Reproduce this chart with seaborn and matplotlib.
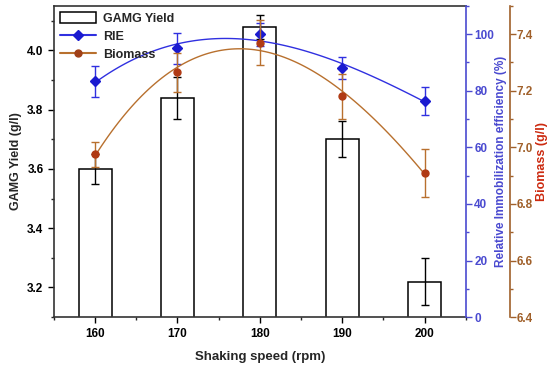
import matplotlib
matplotlib.use("Agg")
import matplotlib.pyplot as plt
import seaborn as sns
from matplotlib.patches import Patch
from matplotlib.lines import Line2D
from matplotlib.ticker import MultipleLocator

speed = [160, 170, 180, 190, 200]
gamg_yield = [3.60, 3.84, 4.08, 3.70, 3.22]
gamg_err = [0.05, 0.07, 0.04, 0.06, 0.08]
rie = [83.3, 95.0, 100.0, 88.0, 76.5]
rie_err = [5.5, 5.5, 4.0, 4.0, 5.0]
biomass = [6.975, 7.265, 7.37, 7.18, 6.91]
biomass_err = [0.045, 0.07, 0.08, 0.08, 0.085]

sns.set_style("ticks")
plt.rcParams['font.family'] = ['Liberation Sans', 'DejaVu Sans']
plt.rcParams['font.weight'] = 'bold'

blue = '#3030e0'
blue_axis = '#4a4ad0'
brown = '#b8702e'
brown_axis = '#a0602a'
dark = '#333333'

fig = plt.figure(figsize=(5.5, 3.7), dpi=100)
ax = fig.add_axes([0.098, 0.143, 0.749, 0.841])

# bars
sns.barplot(x=speed, y=gamg_yield, native_scale=True, width=0.4,
            color='white', edgecolor='black', linewidth=1.1,
            errorbar=None, ax=ax, zorder=2)
ax.errorbar(speed, gamg_yield, yerr=gamg_err, fmt='none', ecolor='black',
            elinewidth=1.0, capsize=3, capthick=1.0, zorder=3)
ax.set_xlim(155, 205)
ax.set_ylim(3.1, 4.15)
ax.set_xticks(speed)
ax.xaxis.set_minor_locator(MultipleLocator(5))
ax.yaxis.set_major_locator(MultipleLocator(0.2))
ax.yaxis.set_minor_locator(MultipleLocator(0.1))
ax.set_xlabel("Shaking speed (rpm)", fontsize=9.5, fontweight='bold', labelpad=8)
ax.set_ylabel("GAMG Yield (g/l)", fontsize=9, fontweight='bold', labelpad=4)
ax.tick_params(axis='both', which='major', direction='out', length=4,
               width=1, labelsize=8.5, colors='black')
ax.tick_params(axis='both', which='minor', direction='out', length=2, width=1)
for s in ['left', 'bottom', 'top']:
    ax.spines[s].set_color(dark)
    ax.spines[s].set_linewidth(1.2)
ax.spines['right'].set_visible(False)
ax.spines['top'].set_visible(True)

# RIE axis
ax2 = ax.twinx()
sns.regplot(x=speed, y=rie, order=3, ci=None, scatter=False, ax=ax2,
            line_kws={'color': blue, 'linewidth': 1.0})
ax2.errorbar(speed, rie, yerr=rie_err, fmt='D', color='#1a1ad0',
             markersize=5, ecolor=blue, elinewidth=1.0, capsize=3, capthick=1.0)
ax2.set_ylim(0, 110)
ax2.yaxis.set_major_locator(MultipleLocator(20))
ax2.yaxis.set_minor_locator(MultipleLocator(10))
ax2.set_ylabel("Relative Immobilization efficiency (%)", color=blue_axis,
               fontsize=8.5, fontweight='bold', labelpad=1)
ax2.tick_params(axis='y', which='major', direction='out', length=4, width=1,
                colors=blue_axis, labelsize=8.5, pad=2)
ax2.tick_params(axis='y', which='minor', direction='out', length=2, width=1,
                colors=blue_axis)
ax2.spines['right'].set_color(blue_axis)
ax2.spines['right'].set_linewidth(1.2)
for s in ['left', 'top', 'bottom']:
    ax2.spines[s].set_visible(False)

# Biomass axis, offset 44 px to the right
ax3 = ax.twinx()
ax3.spines['right'].set_position(('outward', 31.7))
sns.regplot(x=speed, y=biomass, order=3, ci=None, scatter=False, ax=ax3,
            line_kws={'color': brown, 'linewidth': 1.0})
ax3.errorbar(speed, biomass, yerr=biomass_err, fmt='o', color='#b03a14',
             markersize=5, ecolor=brown, elinewidth=1.0, capsize=3, capthick=1.0)
ax3.set_ylim(6.4, 7.5)
ax3.yaxis.set_major_locator(MultipleLocator(0.2))
ax3.yaxis.set_minor_locator(MultipleLocator(0.1))
ax3.set_ylabel("Biomass (g/l)", color='#cc2a10', fontsize=9,
               fontweight='bold', labelpad=2)
ax3.tick_params(axis='y', which='major', direction='out', length=4, width=1,
                colors=brown_axis, labelsize=8.5, pad=1)
ax3.tick_params(axis='y', which='minor', direction='out', length=2, width=1,
                colors=brown_axis)
ax3.spines['right'].set_color(brown_axis)
ax3.spines['right'].set_linewidth(1.2)
for s in ['left', 'top', 'bottom']:
    ax3.spines[s].set_visible(False)
ax3.set_xlim(155, 205)
ax2.set_xlim(155, 205)

handles = [
    Patch(facecolor='white', edgecolor='black', linewidth=1.1),
    Line2D([0], [0], color=blue, marker='D', markersize=5,
           markerfacecolor='#1a1ad0', markeredgecolor='#1a1ad0'),
    Line2D([0], [0], color=brown, marker='o', markersize=5,
           markerfacecolor='#a04018', markeredgecolor='#a04018'),
]
leg = ax3.legend(handles, ["GAMG Yield", "RIE", "Biomass"], loc='upper left',
                 frameon=False, fontsize=9, handlelength=2.9,
                 handleheight=0.9, handletextpad=0.5, labelspacing=0.45,
                 borderaxespad=0.1, borderpad=0.4, bbox_to_anchor=(0.0, 1.0))
for t in leg.get_texts():
    t.set_fontweight('bold')

plt.savefig("out.png", dpi=100)
plt.close()
